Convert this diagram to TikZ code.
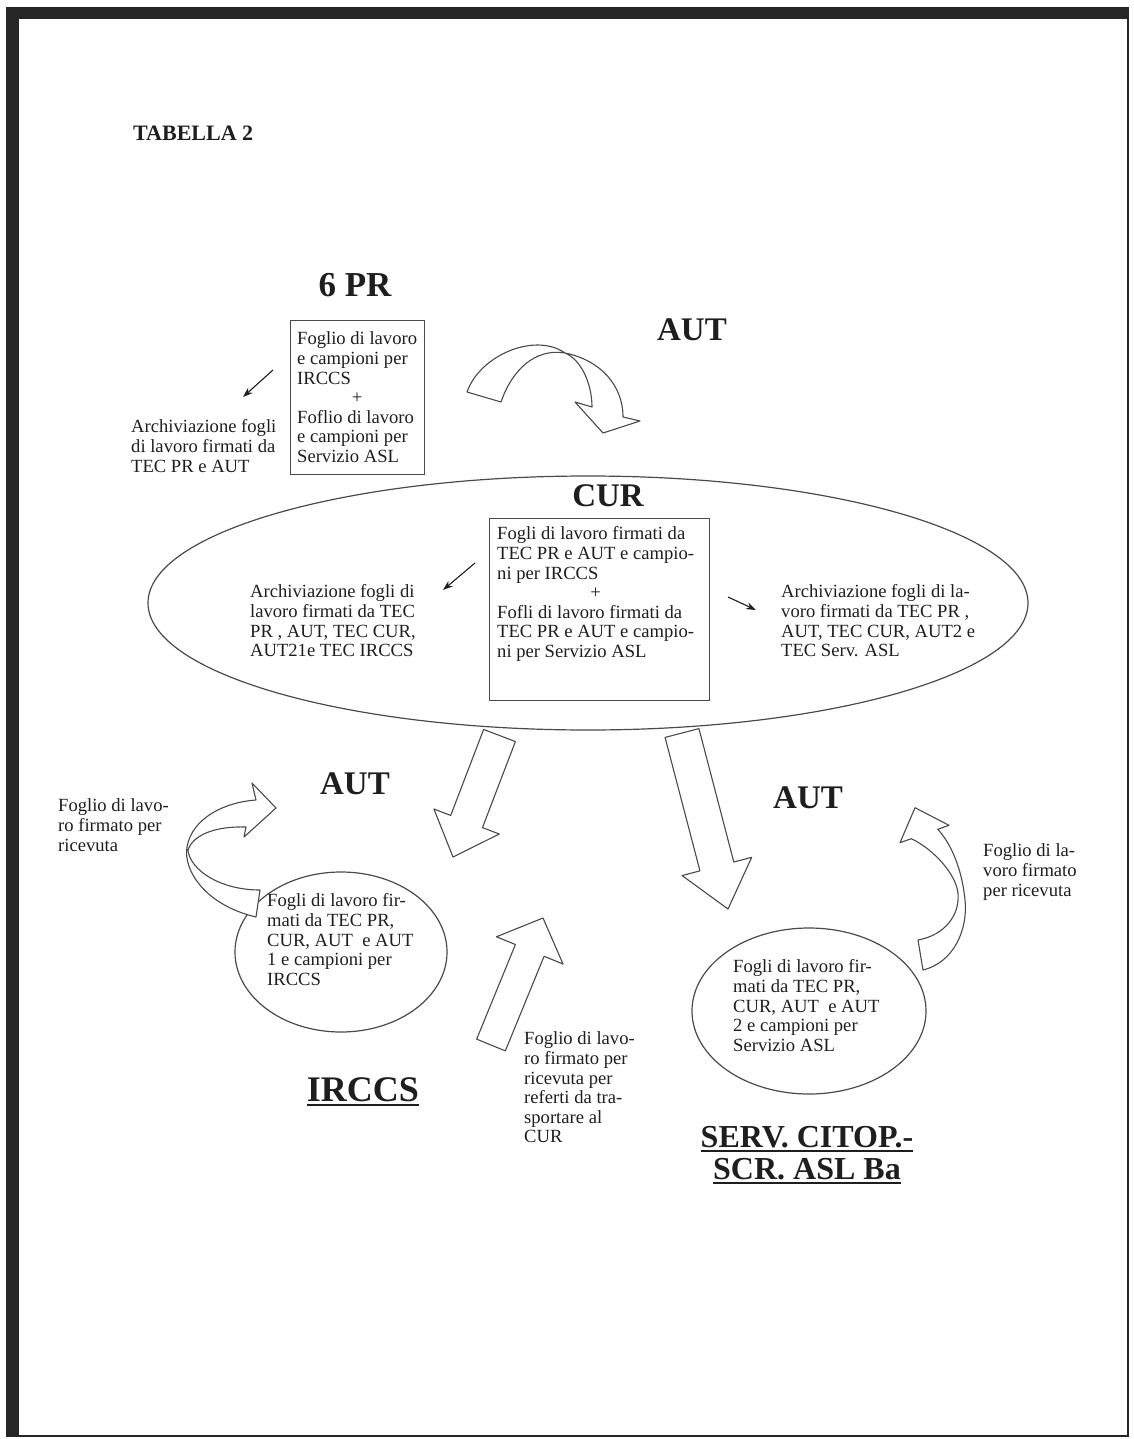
\documentclass[tikz,border=0pt]{standalone}
\usepackage{fontspec}
\setmainfont{Liberation Serif}
\usetikzlibrary{calc,arrows.meta,shapes.geometric}
\definecolor{ink}{HTML}{1E1E1E}
\definecolor{edge}{HTML}{4A4A4A}
\definecolor{framecol}{HTML}{262626}
% left-aligned multi-line text block
\newcommand{\tlines}[1]{\begin{tabular}{@{}l@{}}#1\end{tabular}}
\newcommand{\midline}[1]{\multicolumn{1}{@{}c@{}}{#1}}
% heavy underline for the unit names
\newcommand{\thickul}[1]{\setbox0\hbox{#1}\vtop{\copy0\kern2pt\hrule height 2.4pt width\wd0}}
% hollow block arrow: tail centre, tip, shaft half width, head half width, head length
\newcommand{\blockarrow}[5]{%
  \path ($(#2)!#5!(#1)$) coordinate (ba-neck);
  \draw[ribbon] ($(#1)!#3!90:(#2)$) -- ($(ba-neck)!#3!90:(#2)$) -- ($(ba-neck)!#4!90:(#2)$)
    -- (#2) -- ($(ba-neck)!#4!-90:(#2)$) -- ($(ba-neck)!#3!-90:(#2)$) -- ($(#1)!#3!-90:(#2)$) -- cycle;
}
\tikzset{
  body/.style={font=\fontsize{18.6}{19.6}\selectfont, text=ink, inner sep=0pt, anchor=north west},
  title/.style={font=\fontsize{#1}{#1}\selectfont\bfseries, text=ink, inner sep=0pt},
  outline/.style={draw=edge, line width=1.2pt},
  ribbon/.style={draw=edge, line width=1.1pt, fill=white, line join=round},
  thinarrow/.style={draw=ink, line width=1.1pt, -{Stealth[length=10pt,width=7pt]}},
}
\begin{document}
\begin{tikzpicture}[x=1pt,y=-1pt]
\useasboundingbox (0,0) rectangle (1133,1439);

% page frame: heavy top and left edge, thin right and bottom edge
\fill[framecol] (6,7) rectangle (1129,19);
\fill[framecol] (6,7) rectangle (19,1437);
\draw[framecol, line width=2pt] (1128,19) -- (1128,1436) -- (19,1436);

\node[title=22, anchor=west] (tab) at (133,133) {TABELLA 2};

% ---- 6 PR ----
\node[title=35] (pr) at (355,285) {6 PR};
\node[outline, minimum width=134pt, minimum height=154pt, anchor=north west, inner sep=0pt] (prbox) at (290,320) {};
\node[body] (prtext) at (297,331) {\tlines{Foglio di lavoro\\ e campioni per\\ IRCCS\\ \midline{+}\\ Foflio di lavoro\\ e campioni per\\ Servizio ASL}};
\coordinate (pra1) at (273,370);
\coordinate (pra2) at (243,397);
\draw[thinarrow] (pra1) -- (pra2);
\node[body] (prarch) at (131,419) {\tlines{Archiviazione fogli\\ di lavoro firmati da\\ TEC PR e AUT}};

% courier towards CUR
\node[title=33] (aut1) at (692,330) {AUT};
\draw[ribbon] (467,392) .. controls (480,355) and (535,332) .. (565,353)
  .. controls (600,360) and (623,385) .. (623,417) -- (640,421) -- (603,433) -- (575,402) -- (592,407)
  .. controls (592,385) and (582,360) .. (565,353)
  .. controls (535,348) and (512,370) .. (501,402) -- cycle;

% ---- CUR ----
\node[outline, ellipse, minimum width=880pt, minimum height=254pt, inner sep=0pt] (cur) at (588,603) {};
\node[title=33] (curt) at (608,496) {CUR};
\node[outline, fill=white, minimum width=220pt, minimum height=182pt, anchor=north west, inner sep=0pt] (curbox) at (489,518) {};
\node[body] (curtext) at (497,526) {\tlines{Fogli di lavoro firmati da\\ TEC PR e AUT e campio-\\ ni per IRCCS\\ \midline{+}\\ Fofli di lavoro firmati da\\ TEC PR e AUT e campio-\\ ni per Servizio ASL}};
\coordinate (cla1) at (475,563);
\coordinate (cla2) at (443,590);
\draw[thinarrow] (cla1) -- (cla2);
\node[body] (curleft) at (250,584) {\tlines{Archiviazione fogli di\\ lavoro firmati da TEC\\ PR , AUT, TEC CUR,\\ AUT21e TEC IRCCS}};
\coordinate (cra1) at (728,597);
\coordinate (cra2) at (756,610);
\draw[thinarrow] (cra1) -- (cra2);
\node[body] (curright) at (781,584) {\tlines{Archiviazione fogli di la-\\ voro firmati da TEC PR ,\\ AUT, TEC CUR, AUT2 e\\ TEC Serv. ASL}};

% couriers from CUR to the two laboratories
\coordinate (d1tail) at (499.5,735.5);
\coordinate (d1tip) at (453,857);
\blockarrow{d1tail}{d1tip}{17pt}{35pt}{38pt}
\coordinate (d2tail) at (682,733);
\coordinate (d2tip) at (728,909);
\blockarrow{d2tail}{d2tip}{17.5pt}{36pt}{44pt}

% ---- IRCCS ----
\node[title=33] (aut2) at (355,784) {AUT};
\node[body] (irlab) at (58,798) {\tlines{Foglio di lavo-\\ ro firmato per\\ ricevuta}};
\node[outline, ellipse, minimum width=212pt, minimum height=160pt, inner sep=0pt] (irccs) at (341,952) {};
\node[body] (irtext) at (267,893) {\tlines{Fogli di lavoro fir-\\ mati da TEC PR,\\ CUR, AUT\ \ e AUT\\ 1 e campioni per\\ IRCCS}};
\draw[ribbon] (256,917) .. controls (205,905) and (183,870) .. (187,847)
  .. controls (192,818) and (225,802) .. (256,800) -- (252,783) -- (276,808) -- (244,837) -- (246,827)
  .. controls (215,826) and (193,835) .. (188,850)
  .. controls (190,870) and (220,890) .. (260,890) -- cycle;
\node[title=36] (irname) at (363,1092) {\thickul{IRCCS}};
\coordinate (uptail) at (491,1045);
\coordinate (uptip) at (543,918);
\blockarrow{uptail}{uptip}{15.5pt}{36pt}{35pt}
\node[body] (uplab) at (524,1031) {\tlines{Foglio di lavo-\\ ro firmato per\\ ricevuta per\\ referti da tra-\\ sportare al\\ CUR}};

% ---- Servizio ASL ----
\node[title=33] (aut3) at (808,798) {AUT};
\node[outline, ellipse, minimum width=234pt, minimum height=166pt, inner sep=0pt] (asl) at (809,1011) {};
\node[body] (asltext) at (733,959) {\tlines{Fogli di lavoro fir-\\ mati da TEC PR,\\ CUR, AUT\ \ e AUT\\ 2 e campioni per\\ Servizio ASL}};
\draw[ribbon] (923,970) .. controls (955,962) and (968,928) .. (965,900)
  .. controls (962,868) and (950,842) .. (937.7,829.3) -- (949,825.3) -- (915,807.7) -- (900,842.7) -- (911.3,838.7)
  .. controls (935,850) and (956,875) .. (958,893)
  .. controls (960,915) and (945,935) .. (918,940) -- cycle;
\node[body] (asllab) at (983,843) {\tlines{Foglio di la-\\ voro firmato\\ per ricevuta}};
\node[title=32] (aslname) at (807,1157) {\begin{tabular}{@{}c@{}}\thickul{SERV. CITOP.-}\\ \thickul{SCR. ASL Ba}\end{tabular}};
\end{tikzpicture}
\end{document}
